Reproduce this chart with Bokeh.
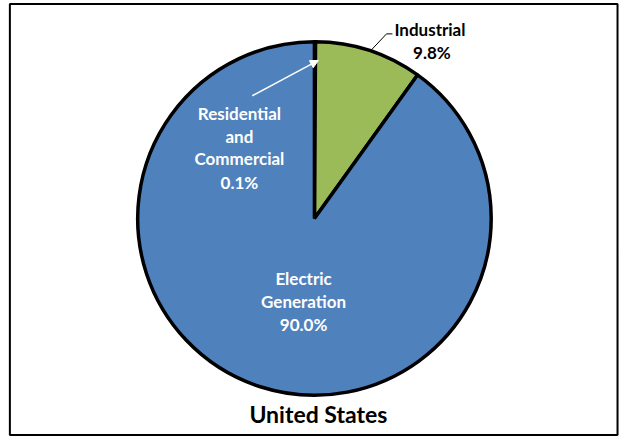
import math
from bokeh.plotting import figure
from bokeh.models import Range1d, Arrow, NormalHead, ColumnDataSource
from bokeh.core.properties import value
from bokeh.embed import file_html
from bokeh.resources import INLINE

# ---- data ----
categories = ["Residential and Commercial", "Industrial", "Electric Generation"]
shares = [0.1, 9.8, 90.0]
colors = ["#C0504D", "#9BBB59", "#4F81BD"]
label_lines = [["Residential", "and", "Commercial", "0.1%"],
               ["Industrial", "9.8%"],
               ["Electric", "Generation", "90.0%"]]
title_text = "United States"

W, H = 619, 436
SX, SY = W / 627, H / 444
p = figure(width=W, height=H, output_backend="svg", toolbar_location=None,
           x_range=Range1d(0, W), y_range=Range1d(0, H), min_border=0)
p.axis.visible = False
p.grid.visible = False
p.outline_line_color = None
p.background_fill_color = "white"
p.border_fill_color = "white"

# reference-image coords -> data coords
def px(X):
    return X * SX
def py(Y):
    return H - Y * SY

# outer frame
p.quad(left=[px(9.5)], right=[px(625)], bottom=[py(442.5)], top=[py(3.5)],
       fill_color=None, line_color="black", line_width=2)

# pie wedges (start at 12 o'clock, clockwise)
total = sum(shares)
starts, ends = [], []
cum = 0.0
for s in shares:
    a0 = math.pi / 2 - 2 * math.pi * cum / total
    cum += s
    a1 = math.pi / 2 - 2 * math.pi * cum / total
    starts.append(a1)
    ends.append(a0)
src = ColumnDataSource(dict(start=starts, end=ends, color=colors, cat=categories))
cx, cy, r = px(318), py(222), 180 * SY
p.wedge(x=cx, y=cy, radius=r, radius_units="screen", start_angle="start", end_angle="end",
        fill_color="color", line_color="black", line_width=3.5, source=src)

font = value("Lato")
fs = "17px"
# Residential label (white)
res_y = [115, 138, 161, 185]
p.text(x=[px(242)] * 4, y=[py(v) for v in res_y], text=label_lines[0],
       text_font=font, text_font_style="bold", text_font_size=fs,
       text_color="white", text_align="center", text_baseline="middle")
# Industrial label (black)
p.text(x=[px(435), px(437)], y=[py(30), py(53)], text=label_lines[1],
       text_font=font, text_font_style="bold", text_font_size=fs,
       text_color="black", text_align="center", text_baseline="middle")
# Electric label (white)
p.text(x=[px(307)] * 3, y=[py(283), py(307), py(330)], text=label_lines[2],
       text_font=font, text_font_style="bold", text_font_size=fs,
       text_color="white", text_align="center", text_baseline="middle")

# leader line for Industrial
p.line(x=[px(376), px(391), px(397)], y=[py(50), py(34), py(34)],
       line_color="black", line_width=1)

# arrow for Residential
p.add_layout(Arrow(end=NormalHead(size=8, fill_color="white", line_color="white"),
                   x_start=px(255), y_start=py(97), x_end=px(322), y_end=py(61),
                   line_color="white", line_width=1.5))

# title
p.text(x=[px(322)], y=[py(421)], text=[title_text], text_font=font,
       text_font_style="bold", text_font_size="23px", text_color="black",
       text_align="center", text_baseline="middle")

open("out.html", "w").write(file_html(p, INLINE))
